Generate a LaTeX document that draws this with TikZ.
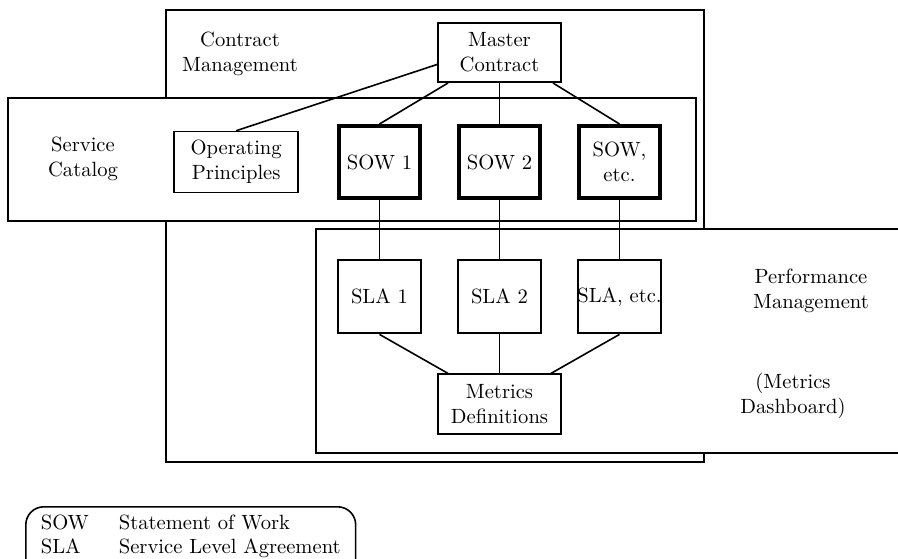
\documentclass[tikz,border=0pt]{standalone}
\usetikzlibrary{positioning}
\begin{document}
\begin{tikzpicture}[
  x=0.5pt, y=-0.5pt,
  node distance=17.5pt,
  every node/.style={font=\fontsize{10.3pt}{12.4pt}\selectfont},
  box/.style={draw,fill=white,line width=1pt,align=center,inner sep=2pt},
  sowbox/.style={box,line width=2pt,minimum width=40.5pt,minimum height=36pt},
  slabox/.style={box,line width=1.2pt,minimum width=41.5pt,minimum height=36.5pt},
  region/.style={draw,fill=white,line width=1pt},
  txt/.style={align=center},
  link/.style={line width=0.8pt}
]
\useasboundingbox (0,0) rectangle (898,558);

% the three overlapping areas
\draw[region] (166,10) rectangle (704,462);
\draw[region] (8,98) rectangle (696,221);
\draw[region] (316,229) rectangle (920,453);

\node[txt] (cm) at (240,54) {Contract\\Management};
\node[txt] (sc) at (83,159) {Service\\Catalog};
\node[txt] (pm) at (811,291) {Performance\\Management};
\node[txt] (md) at (793,396) {(Metrics\\Dashboard)};

\node[box, minimum width=61.5pt, minimum height=29.5pt] (master) at (499.5,52.5) {Master\\Contract};
\node[sowbox, below=20.5pt of master] (sow2) {SOW 2};
\node[sowbox, left=of sow2] (sow1) {SOW 1};
\node[sowbox, right=of sow2] (sowx) {SOW,\\etc.};
\node[box, line width=0.8pt, minimum width=62pt, minimum height=30.5pt, left=19pt of sow1] (ops) {Operating\\Principles};

\node[slabox, below=29.5pt of sow1] (sla1) {SLA 1};
\node[slabox, below=29.5pt of sow2] (sla2) {SLA 2};
\node[slabox, below=29.5pt of sowx, inner xsep=-1pt] (slax) {SLA, etc.};
\node[box, minimum width=61.5pt, minimum height=30pt, below=19.5pt of sla2] (metrics) {Metrics\\Definitions};

\draw[link] ([yshift=-6pt]master.west) -- (ops.north);
\draw[link] ([xshift=5.5pt]master.south west) -- (sow1.north);
\draw[link] (master) -- (sow2);
\draw[link] ([xshift=-4.5pt]master.south east) -- (sowx.north);

\draw[link] (sow1) -- (sla1);
\draw[link] (sow2) -- (sla2);
\draw[link] (sowx) -- (slax);

\draw[link] (sla1.south) -- ([xshift=5.5pt]metrics.north west);
\draw[link] (sla2) -- (metrics);
\draw[link] (slax.south) -- ([xshift=-5.5pt]metrics.north east);

\node[draw, line width=0.8pt, rounded corners=9pt, anchor=north west, inner xsep=7.5pt, inner ysep=2.5pt] (legend) at (25,506)
  {\begin{tabular}{@{}l@{\hspace{15pt}}l@{}}
   SOW & Statement of Work\\
   SLA & Service Level Agreement\\[6pt]
   \end{tabular}};
\end{tikzpicture}
\end{document}
